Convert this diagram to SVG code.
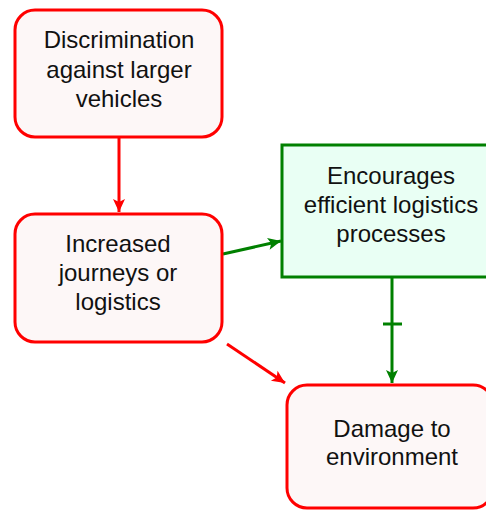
<svg xmlns="http://www.w3.org/2000/svg" width="486" height="512" viewBox="0 0 486 512">
<defs>
<style>
.red{fill:#fdf7f7;stroke:#ff0000;stroke-width:3}
.grn{fill:#e9fff4;stroke:#008000;stroke-width:3}
.t{font-family:"Liberation Sans",Arial,sans-serif;font-size:24px;fill:#111;text-anchor:middle}
.cr{stroke:#ff0000;stroke-width:3;fill:none}
.cg{stroke:#008000;stroke-width:3;fill:none}
</style>
<marker id="ar" markerWidth="16" markerHeight="14" refX="14" refY="7" orient="auto" markerUnits="userSpaceOnUse">
<path d="M14,7 L1,1 L4,7 L1,13 Z" fill="#ff0000"/>
</marker>
<marker id="ag" markerWidth="16" markerHeight="14" refX="14" refY="7" orient="auto" markerUnits="userSpaceOnUse">
<path d="M14,7 L1,1 L4,7 L1,13 Z" fill="#008000"/>
</marker>
</defs>
<rect width="486" height="512" fill="#ffffff"/>
<g id="connectors">
<line class="cr" x1="119" y1="138" x2="119" y2="212" marker-end="url(#ar)"/>
<line class="cg" x1="223" y1="254" x2="281" y2="241" marker-end="url(#ag)"/>
<line class="cr" x1="227" y1="344" x2="285" y2="383" marker-end="url(#ar)"/>
<line class="cg" x1="392" y1="278" x2="392" y2="383" marker-end="url(#ag)"/>
<line class="cg" x1="383" y1="324" x2="402" y2="324"/>
</g>
<g id="n1">
<rect class="red" x="15" y="10" width="207" height="127" rx="20"/>
<text class="t" x="119" y="48">Discrimination</text>
<text class="t" x="119" y="77.5">against larger</text>
<text class="t" x="119" y="107">vehicles</text>
</g>
<g id="n2">
<rect class="red" x="15" y="214" width="207" height="128" rx="20"/>
<text class="t" x="118" y="252">Increased</text>
<text class="t" x="118" y="281">journeys or</text>
<text class="t" x="118" y="310">logistics</text>
</g>
<g id="n3">
<rect class="grn" x="282" y="145" width="220" height="132"/>
<text class="t" x="391" y="184">Encourages</text>
<text class="t" x="391" y="213">efficient logistics</text>
<text class="t" x="391" y="242">processes</text>
</g>
<g id="n4">
<rect class="red" x="287" y="385" width="206" height="123" rx="20"/>
<text class="t" x="392" y="437">Damage to</text>
<text class="t" x="392" y="465">environment</text>
</g>
</svg>
